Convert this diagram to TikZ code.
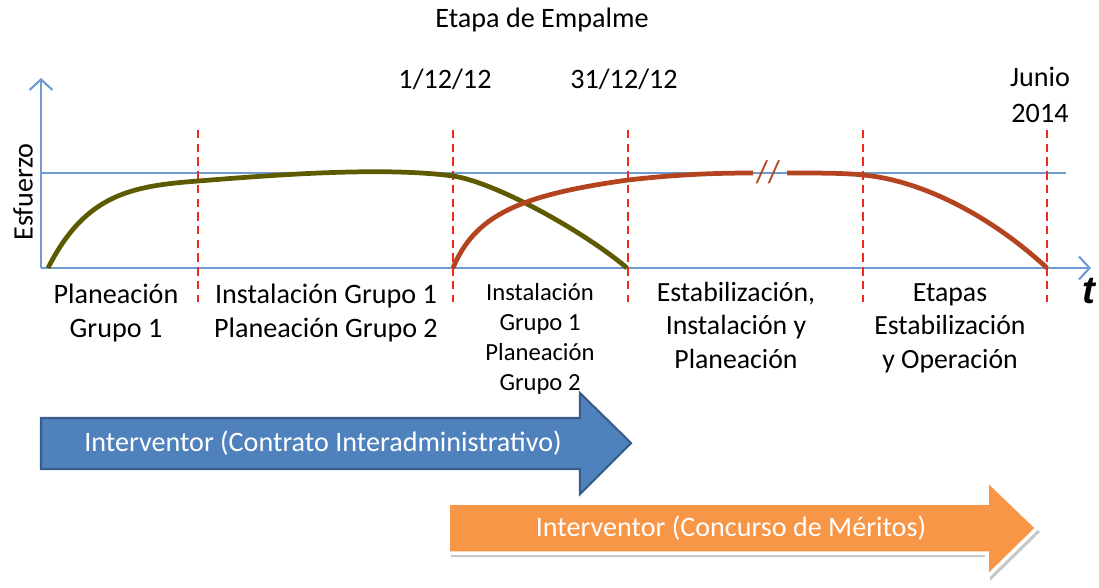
\documentclass[tikz,border=0pt]{standalone}
\usepackage{fontspec}
\setmainfont{Carlito}
\newfontfamily\tfont{Liberation Sans}
\usepackage{tikz}
\usetikzlibrary{arrows.meta}
\definecolor{ejeazul}{RGB}{110,155,210}
\definecolor{oliva}{RGB}{94,90,0}
\definecolor{ladrillo}{RGB}{180,68,32}
\definecolor{rojocorte}{RGB}{240,40,30}
\definecolor{azulflecha}{RGB}{79,129,189}
\definecolor{bordeazul}{RGB}{56,93,138}
\definecolor{naranja}{RGB}{247,150,70}

\begin{document}
\begin{tikzpicture}[x=0.01cm, y=-0.01cm,
  eje/.style={ejeazul, line width=0.6pt},
  cortes/.style={rojocorte, line width=0.75pt, dash pattern=on 2.4pt off 1.5pt},
  curva/.style={line width=1.35pt},
  txt/.style={font=\fontsize{8}{10}\selectfont, align=center},
  grande/.style={font=\fontsize{8}{9.5}\selectfont, align=center},
  flechatxt/.style={white, font=\fontsize{8}{9}\selectfont}]
\useasboundingbox (0,0) rectangle (1099,587);
% ejes
\coordinate (O) at (41,268);
\coordinate (Ytop) at (41,78);
\coordinate (Xfin) at (1091,268);
\draw[eje] (41,173) -- (1066,173);
\draw[eje, -{Straight Barb[length=3pt,width=6.5pt]}] (O)--(Ytop);
\draw[eje, -{Straight Barb[length=3pt,width=6.5pt]}] (O)--(Xfin);
% cortes
\draw[cortes] (198,130)--(198,302);
\draw[cortes] (453,130)--(453,302);
\draw[cortes] (628,130)--(628,302);
\draw[cortes] (863,130)--(863,302);
\draw[cortes] (1047,130)--(1047,302);
% curvas
\draw[curva, oliva] (48,268) .. controls (85,195) and (130,186) .. (198,181)
  .. controls (262,176) and (380,166) .. (453,176)
  .. controls (495,182) and (585,232) .. (627,268);
\draw[curva, ladrillo] (453,268) .. controls (475,215) and (520,195) .. (628,180)
  .. controls (680,174) and (720,173) .. (753,173);
\draw[curva, ladrillo] (787,173) .. controls (820,173) and (845,173) .. (863,175)
  .. controls (920,180) and (990,215) .. (1047,268);
\path
(768,172) node[ladrillo, font=\fontsize{9}{9}\selectfont] (corteeje) {//};
% textos (anchor=base: ultima linea)
\path
(542,27) node[anchor=base, txt] (empalme) {Etapa de Empalme};
\path
(445,88) node[anchor=base, txt] (f1) {1/12/12};
\path
(624,88) node[anchor=base, txt] (f2) {31/12/12};
\path
(1040,122) node[anchor=base, txt] (f3) {Junio\\2014};
\path
(23,192) node[rotate=90, txt] (esfuerzo) {Esfuerzo};
\path
(1089,303) node[anchor=base, font=\tfont\fontsize{11}{11}\selectfont\bfseries\itshape] (t) {t};
\path
(116,337) node[anchor=base, grande] (e1) {Planeación\\Grupo 1};
\path
(326,337) node[anchor=base, grande] (e2) {Instalación Grupo 1\\Planeación Grupo 2};
\path
(540,390) node[anchor=base, font=\fontsize{7}{8.5}\selectfont, align=center] (e3) {Instalación\\Grupo 1\\Planeación\\Grupo 2};
\path
(736,368) node[anchor=base, font=\fontsize{7.9}{9.4}\selectfont, align=center] (e4) {Estabilización,\\Instalación y\\Planeación};
\path
(950,368) node[anchor=base, font=\fontsize{7.9}{9.4}\selectfont, align=center] (e5) {Etapas\\Estabilización\\y Operación};
% flechas
\filldraw[fill=azulflecha, draw=bordeazul, line width=0.6pt]
  (41,418)--(580,418)--(580,393)--(631,443)--(580,494)--(580,469)--(41,469)--cycle;
\path
(323,443) node[flechatxt] (interA) {Interventor (Contrato Interadministrativo)};
\fill[black!22] (451,507)--(990,507)--(990,484)--(1040,532)--(990,581)--(990,557)--(451,557)--cycle;
\filldraw[fill=naranja, draw=white, line width=1pt]
  (448,503)--(987,503)--(987,480)--(1037,528)--(987,577)--(987,553)--(448,553)--cycle;
\path
(731,528) node[flechatxt] (interB) {Interventor (Concurso de Méritos)};
\end{tikzpicture}
\end{document}
